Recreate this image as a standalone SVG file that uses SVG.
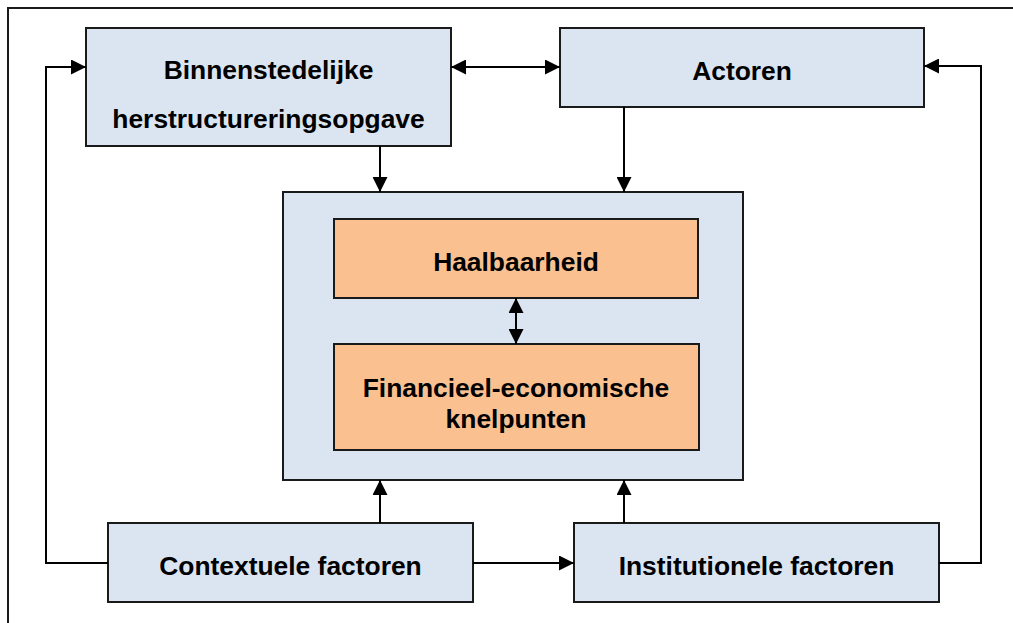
<svg xmlns="http://www.w3.org/2000/svg" width="1013" height="623" viewBox="0 0 1013 623">
  <defs>
    <marker id="arrow" viewBox="0 0 15 15" refX="15" refY="7.5" markerWidth="15" markerHeight="15" markerUnits="userSpaceOnUse" orient="auto-start-reverse">
      <path d="M0,0 L15,7.5 L0,15 z" fill="#000"/>
    </marker>
    <style>
      .frame { fill: none; stroke: #1a1a1a; stroke-width: 2; }
      .blue { fill: #dbe5f1; stroke: #1a1a1a; stroke-width: 2; }
      .orange { fill: #fac090; stroke: #1a1a1a; stroke-width: 2; }
      .label { font-family: "Liberation Sans", Arial, sans-serif; font-weight: bold; font-size: 26.4px; fill: #000; text-anchor: middle; }
      .link { fill: none; stroke: #000; stroke-width: 2; }
    </style>
  </defs>

  <rect width="1013" height="623" fill="#fff"/>

  <!-- surrounding frame (runs past the right and bottom edges) -->
  <path class="frame" d="M8,623 L8,8 L1013,8"/>

  <g id="binnenstedelijke">
    <rect class="blue" x="86" y="28" width="365" height="118"/>
    <text class="label" x="268.5" y="79">Binnenstedelijke</text>
    <text class="label" x="268.5" y="128">herstructureringsopgave</text>
  </g>

  <g id="actoren">
    <rect class="blue" x="560" y="28" width="364" height="79"/>
    <text class="label" x="742" y="80">Actoren</text>
  </g>

  <g id="kern">
    <rect class="blue" x="283" y="192" width="460" height="288"/>
  </g>

  <g id="haalbaarheid">
    <rect class="orange" x="334" y="219" width="364" height="79"/>
    <text class="label" x="516" y="271">Haalbaarheid</text>
  </g>

  <g id="knelpunten">
    <rect class="orange" x="334" y="344" width="365" height="106"/>
    <text class="label" x="516" y="397">Financieel-economische</text>
    <text class="label" x="516" y="428">knelpunten</text>
  </g>

  <g id="contextuele">
    <rect class="blue" x="108" y="523" width="365" height="79"/>
    <text class="label" x="290.5" y="575">Contextuele factoren</text>
  </g>

  <g id="institutionele">
    <rect class="blue" x="574" y="523" width="365" height="79"/>
    <text class="label" x="756.5" y="575">Institutionele factoren</text>
  </g>

  <g id="connectors">
    <path class="link" d="M108,563 L46,563 L46,67 L86,67" marker-end="url(#arrow)"/>
    <path class="link" d="M451,67 L560,67" marker-start="url(#arrow)" marker-end="url(#arrow)"/>
    <path class="link" d="M380,146 L380,192" marker-end="url(#arrow)"/>
    <path class="link" d="M624,107 L624,192" marker-end="url(#arrow)"/>
    <path class="link" d="M516,298 L516,344" marker-start="url(#arrow)" marker-end="url(#arrow)"/>
    <path class="link" d="M380,523 L380,480" marker-end="url(#arrow)"/>
    <path class="link" d="M624,523 L624,480" marker-end="url(#arrow)"/>
    <path class="link" d="M473,563 L574,563" marker-end="url(#arrow)"/>
    <path class="link" d="M939,563 L981,563 L981,66 L924,66" marker-end="url(#arrow)"/>
  </g>
</svg>
